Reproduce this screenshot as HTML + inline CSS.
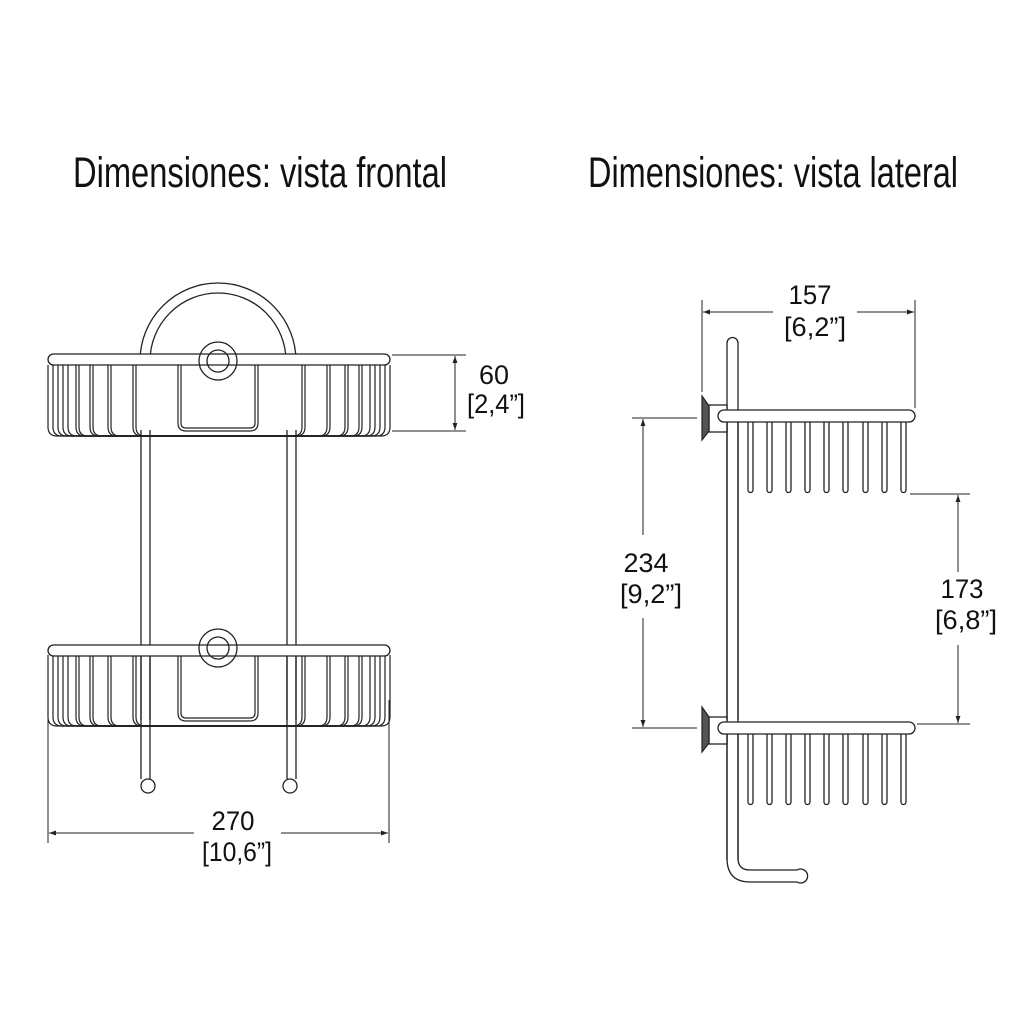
<!DOCTYPE html>
<html><head><meta charset="utf-8"><style>
html,body{margin:0;padding:0;background:#fff}
svg{display:block}
text{font-family:"Liberation Sans",sans-serif;fill:#111}
</style></head><body>
<svg width="1024" height="1028" viewBox="0 0 1024 1028" xmlns="http://www.w3.org/2000/svg">
<defs>
<marker id="a" viewBox="0 0 10 10" refX="10" refY="5" markerWidth="9" markerHeight="7" orient="auto-start-reverse" markerUnits="userSpaceOnUse"><path d="M0,1.5 L10,5 L0,8.5 Z" fill="#222"/></marker>
<g id="basket">
  <g fill="none" stroke="#222" stroke-width="1.2">
    <path d="M48,0 V62 Q48,71 57,71 H381 Q390,71 390,62 V0"/>
    <path d="M53,0 V62 Q53,71 62,71 H376 Q385,71 385,62 V0"/>
    <path d="M58,0 V62 Q58,71 67,71 H371 Q380,71 380,62 V0"/>
    <path d="M63,0 V62 Q63,71 72,71 H366 Q375,71 375,62 V0"/>
    <path d="M68,0 V62 Q68,71 77,71 H361 Q370,71 370,62 V0"/>
    <path d="M76,0 V62 Q76,71 85,71 H353 Q362,71 362,62 V0"/>
    <path d="M79,0 V62 Q79,71 88,71 H350 Q359,71 359,62 V0"/>
    <path d="M90,0 V62 Q90,71 99,71 H339 Q348,71 348,62 V0"/>
    <path d="M93,0 V62 Q93,71 102,71 H336 Q345,71 345,62 V0"/>
    <path d="M108,0 V62 Q108,71 117,71 H321 Q330,71 330,62 V0"/>
    <path d="M111,0 V62 Q111,71 120,71 H318 Q327,71 327,62 V0"/>
    <path d="M133,0 V62 Q133,71 142,71 H296 Q305,71 305,62 V0"/>
    <path d="M136,0 V62 Q136,71 145,71 H293 Q302,71 302,62 V0"/>
    <path d="M178,0 V58 Q178,66 186,66 H250 Q258,66 258,58 V0"/>
    <path d="M181,0 V58 Q181,63 186,63 H250 Q255,63 255,58 V0"/>
  </g>
</g>
</defs>

<text x="73" y="187" font-size="43" textLength="374" lengthAdjust="spacingAndGlyphs">Dimensiones: vista frontal</text>
<text x="588" y="187" font-size="43" textLength="370" lengthAdjust="spacingAndGlyphs">Dimensiones: vista lateral</text>

<g fill="none" stroke="#222" stroke-width="1.3">
  <path d="M140,356 V361 A78,78 0 0 1 296,361 V356"/>
  <path d="M150,356 V361 A68,68 0 0 1 286,361 V356"/>
  <line x1="141" y1="430" x2="141" y2="779"/>
  <line x1="150" y1="430" x2="150" y2="779"/>
  <line x1="287" y1="430" x2="287" y2="779"/>
  <line x1="296" y1="430" x2="296" y2="779"/>
  <circle cx="148" cy="786" r="7" fill="#fff"/>
  <circle cx="290" cy="786" r="7" fill="#fff"/>
</g>
<g transform="translate(0,365)"><use href="#basket"/></g>
<rect x="48" y="354" width="342" height="11" rx="5.5" fill="#fff" stroke="#222" stroke-width="1.3"/>
<g fill="none" stroke="#222" stroke-width="1.3">
  <circle cx="218" cy="361" r="19"/>
  <circle cx="218" cy="361" r="11"/>
</g>
<g transform="translate(0,655)"><use href="#basket"/></g>
<rect x="48" y="645" width="342" height="11" rx="5.5" fill="#fff" stroke="#222" stroke-width="1.3"/>
<g fill="none" stroke="#222" stroke-width="1.3">
  <circle cx="218" cy="648" r="19"/>
  <circle cx="218" cy="648" r="11"/>
</g>
<g stroke="#222" stroke-width="1.3">
  <line x1="141" y1="656" x2="141" y2="720"/><line x1="150" y1="656" x2="150" y2="720"/>
  <line x1="287" y1="656" x2="287" y2="720"/><line x1="296" y1="656" x2="296" y2="720"/>
</g>

<g stroke="#222" stroke-width="1">
  <line x1="392" y1="355" x2="466" y2="355"/>
  <line x1="392" y1="431" x2="466" y2="431"/>
  <line x1="455" y1="356" x2="455" y2="430" marker-start="url(#a)" marker-end="url(#a)"/>
  <line x1="48" y1="700" x2="48" y2="843"/>
  <line x1="389" y1="700" x2="389" y2="843"/>
  <line x1="194" y1="833" x2="49" y2="833" marker-end="url(#a)"/>
  <line x1="281" y1="833" x2="388" y2="833" marker-end="url(#a)"/>
</g>
<g font-size="27" text-anchor="middle">
<text x="494" y="384" textLength="30" lengthAdjust="spacingAndGlyphs">60</text>
<text x="496" y="413" textLength="58" lengthAdjust="spacingAndGlyphs">[2,4”]</text>
<text x="233" y="830" textLength="43" lengthAdjust="spacingAndGlyphs">270</text>
<text x="237" y="861" textLength="70" lengthAdjust="spacingAndGlyphs">[10,6”]</text>
<text x="810" y="304" textLength="43" lengthAdjust="spacingAndGlyphs">157</text>
<text x="815" y="336" textLength="62" lengthAdjust="spacingAndGlyphs">[6,2”]</text>
<text x="646" y="572" textLength="45" lengthAdjust="spacingAndGlyphs">234</text>
<text x="651" y="603" textLength="62" lengthAdjust="spacingAndGlyphs">[9,2”]</text>
<text x="962" y="598" textLength="43" lengthAdjust="spacingAndGlyphs">173</text>
<text x="966" y="629" textLength="62" lengthAdjust="spacingAndGlyphs">[6,8”]</text>
</g>

<g fill="none" stroke="#222" stroke-width="1.3">
  <path d="M727,858 V343 A5.5,5.5 0 0 1 738,343 V858 Q738,870 750,870 H797 A7,7 0 1 1 797,882 H750 Q727,882 727,858"/>
  <g id="teeth">
    <path d="M748,422 V490 A2.5,2.5 0 0 0 753,490 V422"/>
    <path d="M767,422 V490 A2.5,2.5 0 0 0 772,490 V422"/>
    <path d="M786,422 V490 A2.5,2.5 0 0 0 791,490 V422"/>
    <path d="M805,422 V490 A2.5,2.5 0 0 0 810,490 V422"/>
    <path d="M824,422 V490 A2.5,2.5 0 0 0 829,490 V422"/>
    <path d="M843,422 V490 A2.5,2.5 0 0 0 848,490 V422"/>
    <path d="M863,422 V490 A2.5,2.5 0 0 0 868,490 V422"/>
    <path d="M882,422 V490 A2.5,2.5 0 0 0 887,490 V422"/>
    <path d="M901,422 V490 A2.5,2.5 0 0 0 906,490 V422"/>
  </g>
  <use href="#teeth" transform="translate(0,312)"/>
  <rect x="709" y="405" width="18" height="27" fill="#fff"/>
  <rect x="709" y="717" width="18" height="27" fill="#fff"/>
</g>
<path d="M702,396 L709,406 V431 L702,440 Z" fill="#555" stroke="#222" stroke-width="1.2"/>
<path d="M702,707 L709,717 V743 L702,752 Z" fill="#555" stroke="#222" stroke-width="1.2"/>
<rect x="718" y="410" width="197" height="12" rx="6" fill="#fff" stroke="#222" stroke-width="1.3"/>
<rect x="718" y="722" width="197" height="12" rx="6" fill="#fff" stroke="#222" stroke-width="1.3"/>
<g stroke="#222" stroke-width="1.3"><line x1="727" y1="422" x2="727" y2="720"/><line x1="738" y1="422" x2="738" y2="720"/><line x1="727" y1="734" x2="727" y2="860"/><line x1="738" y1="734" x2="738" y2="860"/></g>

<g stroke="#222" stroke-width="1">
  <line x1="702" y1="300" x2="702" y2="392"/>
  <line x1="915" y1="300" x2="915" y2="408"/>
  <line x1="773" y1="312" x2="703" y2="312" marker-end="url(#a)"/>
  <line x1="857" y1="312" x2="914" y2="312" marker-end="url(#a)"/>
  <line x1="632" y1="418" x2="697" y2="418"/>
  <line x1="632" y1="728" x2="697" y2="728"/>
  <line x1="643" y1="535" x2="643" y2="419" marker-end="url(#a)"/>
  <line x1="643" y1="618" x2="643" y2="727" marker-end="url(#a)"/>
  <line x1="910" y1="494" x2="970" y2="494"/>
  <line x1="917" y1="724" x2="970" y2="724"/>
  <line x1="958" y1="572" x2="958" y2="495" marker-end="url(#a)"/>
  <line x1="958" y1="645" x2="958" y2="723" marker-end="url(#a)"/>
</g>
</svg>
</body></html>
